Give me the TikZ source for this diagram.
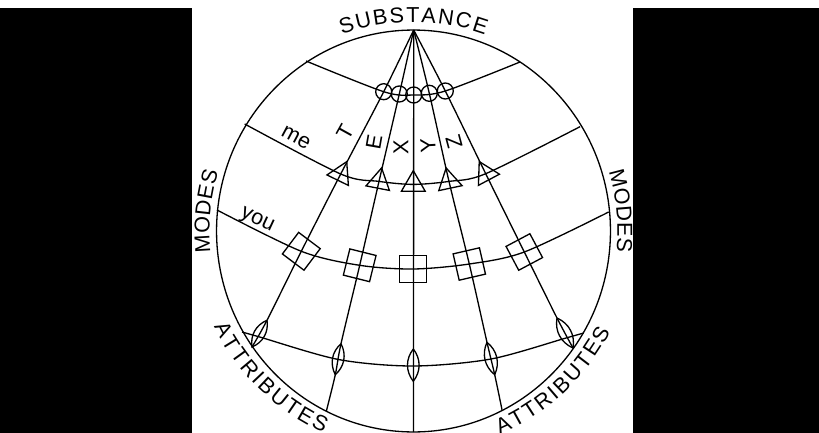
\documentclass[tikz,border=0pt]{standalone}
\usepackage{fontspec}
\setmainfont{Liberation Sans}
\usetikzlibrary{shapes.geometric,decorations.text}
\newcommand{\lblfont}{\fontsize{12.3}{14}\selectfont}
\tikzset{
  every path/.style={line width=0.75pt},
  lbl/.style={font=\lblfont,inner sep=0pt},
  ring/.style={draw,circle,minimum size=0.32cm,inner sep=0pt},
  tri/.style={draw,regular polygon,regular polygon sides=3,minimum size=0.55cm,inner sep=0pt},
  sq/.style={draw,rectangle,minimum size=0.54cm,inner sep=0pt},
  curved/.style={decorate,decoration={text along path,text={|\lblfont|#1},text align={fit to path}}}
}
\begin{document}
\begin{tikzpicture}[x=0.02cm,y=-0.02cm]
    \useasboundingbox (0,0) rectangle (819,433);
    \fill[black] (0,8) rectangle (192,433);
    \fill[black] (633,8) rectangle (819,433);
    % Globe
    \node[draw,ellipse,minimum width=7.88cm,minimum height=8.04cm,inner sep=0pt] (globe) at (413.5,231) {};
    \coordinate (top) at (413.7,30);
    % Circles
    \node[ring] (c1) at (383.7,91.7) {};
    \node[ring] (c2) at (399.3,94) {};
    \node[ring] (c3) at (413.7,95) {};
    \node[ring] (c4) at (429.3,93.3) {};
    \node[ring] (c5) at (445.3,91) {};
    % Triangles
    \node[tri,rotate=-26] (t1) at (340.7,174) {};
    \node[tri,rotate=-11] (t2) at (379,181.4) {};
    \node[tri] (t3) at (413.3,184.4) {};
    \node[tri,rotate=12] (t4) at (449,181.4) {};
    \node[tri,rotate=28] (t5) at (485.7,173.7) {};
    % Squares
    \node[sq,rotate=-37] (s1) at (301.3,251.3) {};
    \node[sq,rotate=-14] (s2) at (359.7,265.3) {};
    \node[sq] (s3) at (413.3,269) {};
    \node[sq,rotate=13] (s4) at (469.3,264) {};
    \node[sq,rotate=28] (s5) at (524.3,252) {};
    % Lenses
    \coordinate (la1) at (267,320.3);
    \coordinate (lb1) at (252,347);
    \coordinate (la2) at (341,343.7);
    \coordinate (lb2) at (335.3,374.7);
    \coordinate (la3) at (413.3,349);
    \coordinate (lb3) at (413.3,381.3);
    \coordinate (la4) at (487,342.3);
    \coordinate (lb4) at (494.7,374.7);
    \coordinate (la5) at (557,318);
    \coordinate (lb5) at (573,348);
    \foreach \i in {1,...,5}
      \draw (la\i) to[bend left=38] (lb\i) to[bend left=38] (la\i);
    \coordinate (m1) at (259.7,337);
    \coordinate (m2) at (338.5,359.5);
    \coordinate (m3) at (413.3,366);
    \coordinate (m4) at (491,359);
    \coordinate (m5) at (566,338);
    % Lines from the top
    \coordinate (e2) at (326.3,411.3);
    \coordinate (e3) at (413.5,432);
    \coordinate (e4) at (502,409.7);
    \draw plot[smooth] coordinates {(top) (c1.center) (t1.center) (s1.center) (la1) (lb1)};
    \draw plot[smooth] coordinates {(top) (c2.center) (t2.center) (s2.center) (la2) (lb2) (e2)};
    \draw (top) -- (e3);
    \draw plot[smooth] coordinates {(top) (c4.center) (t4.center) (s4.center) (la4) (lb4) (e4)};
    \draw plot[smooth] coordinates {(top) (c5.center) (t5.center) (s5.center) (la5) (lb5)};
    % Arcs across
    \coordinate (al) at (306,61);
    \coordinate (ar) at (520,62);
    \coordinate (bl) at (244.7,124);
    \coordinate (br) at (580,126.7);
    \coordinate (dl) at (217,210);
    \coordinate (dr) at (608.7,212);
    \coordinate (fl) at (242,332);
    \coordinate (fr) at (583.7,333);
    \draw plot[smooth] coordinates {(al) (c1.center) (c3.center) (c5.center) (ar)};
    \draw plot[smooth] coordinates {(bl) (t1.center) (t2.center) (t3.center) (t4.center) (t5.center) (br)};
    \draw plot[smooth] coordinates {(dl) (s1.center) (s2.center) (s3.center) (s4.center) (s5.center) (dr)};
    \draw plot[smooth] coordinates {(fl) (m1) (m2) (m3) (m4) (m5) (fr)};
    % Letters
    \node[lbl,rotate=61] (lT) at (345,132) {T};
    \node[lbl,rotate=80] (lE) at (374,142) {E};
    \node[lbl,rotate=90] (lX) at (401,147) {X};
    \node[lbl,rotate=93] (lY) at (428,146) {Y};
    \node[lbl,rotate=105] (lZ) at (454,142) {Z};
    \node[lbl,rotate=-28] (lme) at (296,138) {me};
    \node[lbl,rotate=-25] (lyou) at (257,221) {you};
    % Curved labels
    \path[curved=SUBSTANCE] (413.5,231) ++(250:209) arc[start angle=250,end angle=290,radius=209];
    \path[curved=MODES] (413.5,231) ++(174:204) arc[start angle=174,end angle=197,radius=204];
    \path[curved=MODES] (413.5,231) ++(-17:204) arc[start angle=-17,end angle=6,radius=204];
    \path[curved=ATTRIBUTES] (413.5,231) ++(154.5:221) arc[start angle=154.5,end angle=114,radius=221];
    \path[curved=ATTRIBUTES] (413.5,231) ++(67:221) arc[start angle=67,end angle=27,radius=221];
\end{tikzpicture}
\end{document}
